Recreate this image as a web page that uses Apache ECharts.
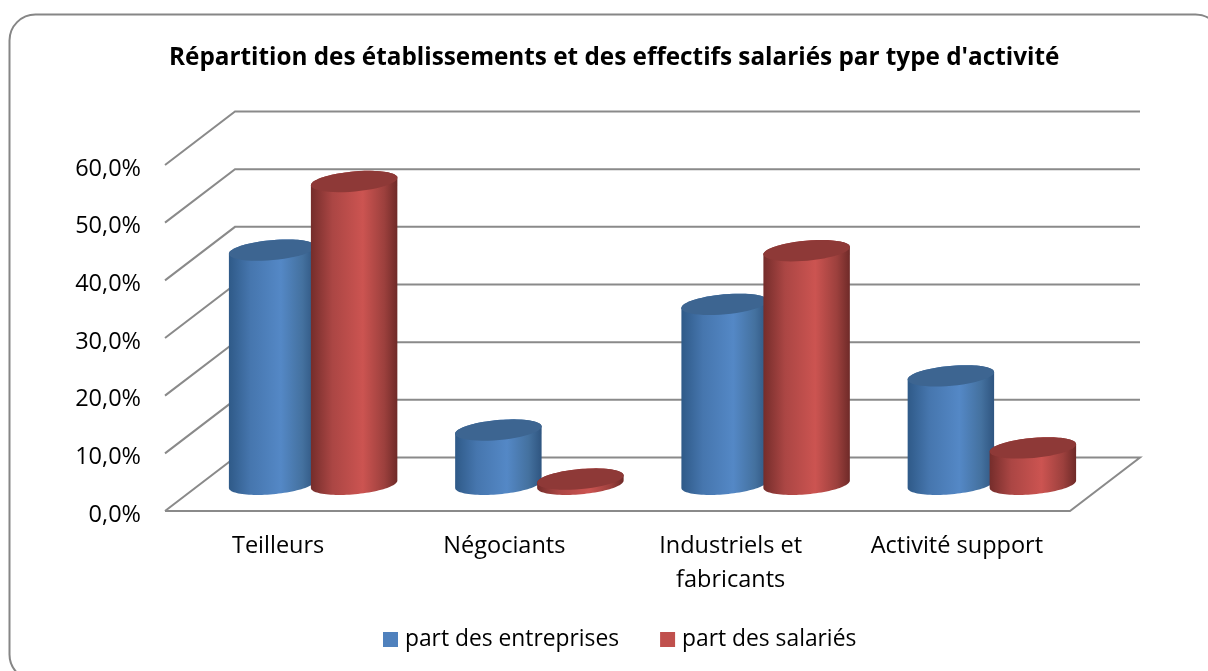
<!DOCTYPE html>
<html>
<head>
<meta charset="utf-8">
<style>html,body{margin:0;padding:0;background:#fff;overflow:hidden}#c{width:1208px;height:671px}</style>
<script src="https://cdn.jsdelivr.net/npm/echarts@6/dist/echarts.min.js"></script>
</head>
<body>
<div id="c"></div>
<script>
const titleText = "Répartition des établissements et des effectifs salariés par type d'activité";
const categories = ["Teilleurs", "Négociants", "Industriels et\nfabricants", "Activité support"];
const partEntreprises = [40.6, 9.4, 31.2, 18.8];
const partSalaries = [52.5, 0.9, 40.5, 6.3];
const yTicks = [0, 10, 20, 30, 40, 50, 60];
const FONT = "'Open Sans', Lato, sans-serif";
const DEPTH_X = 70, DEPTH_Y = 53.5, GRID_COLOR = '#8a8a8a';
const RX = 43.4, RY = 10, TILT = -0.09, SERIES_OFFSET = 41;

const blueFill = {
  side: [[0, '#2f5a88'], [0.25, '#4676ae'], [0.6, '#5488c6'], [0.85, '#44719f'], [1, '#2f5580']],
  top: '#3d6591'
};
const redFill = {
  side: [[0, '#752d2b'], [0.25, '#ab4644'], [0.6, '#cc5451'], [0.85, '#9c403d'], [1, '#6f2a28']],
  top: '#8e3937'
};

function ellipsePts(cx, cy, from, to) {
  const pts = [], n = 48;
  for (let i = 0; i <= n; i++) {
    const t = from + (to - from) * i / n;
    const x = RX * Math.cos(t), y = RY * Math.sin(t);
    pts.push([cx + x * Math.cos(TILT) - y * Math.sin(TILT),
              cy + x * Math.sin(TILT) + y * Math.cos(TILT)]);
  }
  return pts;
}

function cylinder(side, fill) {
  return function (params, api) {
    const cat = api.value(0), val = api.value(1);
    const base = api.coord([cat, 0]), top = api.coord([cat, val]);
    const cx = base[0] + DEPTH_X / 2 + side * SERIES_OFFSET;
    const by = base[1] - DEPTH_Y / 2, ty = top[1] - DEPTH_Y / 2;
    const lower = ellipsePts(cx, by, 0, Math.PI);
    const upper = ellipsePts(cx, ty, Math.PI, 2 * Math.PI);
    const body = lower.concat(upper);
    return {
      type: 'group',
      children: [
        { type: 'polygon', shape: { points: body }, style: {
            fill: { type: 'linear', x: 0, y: 0, x2: 1, y2: 0,
                    colorStops: fill.side.map(s => ({ offset: s[0], color: s[1] })) } } },
        { type: 'polygon', shape: { points: ellipsePts(cx, ty, 0, 2 * Math.PI) },
          style: { fill: fill.top } }
      ]
    };
  };
}

function wall(params, api) {
  const v = api.value(0);
  const p = api.coord([0, v]);
  const cs = params.coordSys;
  const x0 = cs.x, x1 = cs.x + cs.width, y = p[1];
  const pts = [[x0, y], [x0 + DEPTH_X, y - DEPTH_Y], [x1 + DEPTH_X, y - DEPTH_Y]];
  if (v === 0) pts.push([x1, y], [x0, y]);
  return { type: 'polyline', shape: { points: pts },
           style: { fill: null, stroke: GRID_COLOR, lineWidth: 2 } };
}

const chart = echarts.init(document.getElementById('c'), null, { renderer: 'canvas' });
chart.setOption({
  animation: false,
  backgroundColor: '#ffffff',
  title: { text: titleText, left: 164, top: 41,
    textStyle: { fontFamily: FONT, fontWeight: 'bold', fontSize: 24.3, color: '#000' } },
  legend: {
    left: 383, top: 628, padding: 0, itemWidth: 15, itemHeight: 15, itemGap: 41, icon: 'rect',
    textStyle: { fontFamily: FONT, fontSize: 22.8, color: '#000', padding: [0, 0, 0, 2] },
    data: ['part des entreprises', 'part des salariés']
  },
  grid: { left: 165, top: 165, width: 905, height: 346 },
  xAxis: { type: 'category', data: categories,
    axisLine: { show: false }, axisTick: { show: false }, splitLine: { show: false },
    axisLabel: { fontFamily: FONT, fontSize: 23.5, color: '#000', margin: 18, lineHeight: 34, interval: 0 } },
  yAxis: { type: 'value', min: 0, max: 60, interval: 10,
    axisLine: { show: false }, axisTick: { show: false }, splitLine: { show: false },
    axisLabel: { fontFamily: FONT, fontSize: 23.5, color: '#000', margin: 24,
      verticalAlign: 'top', lineHeight: 8,
      formatter: v => v.toFixed(1).replace('.', ',') + '%' } },
  graphic: [{ type: 'rect', z: -1, silent: true,
    shape: { x: 9.5, y: 14.5, width: 1212, height: 666, r: 26 },
    style: { fill: '#fff', stroke: '#868686', lineWidth: 2 } }],
  series: [
    { type: 'custom', name: 'grid', z: 1, silent: true, renderItem: wall, clip: false,
      encode: { y: 0 }, data: yTicks.map(v => [v]) },
    { type: 'custom', name: 'part des entreprises', z: 2, clip: false, renderItem: cylinder(-1, blueFill),
      itemStyle: { color: '#4f81bd' }, encode: { x: 0, y: 1 },
      data: partEntreprises.map((v, i) => [i, v]) },
    { type: 'custom', name: 'part des salariés', z: 3, clip: false, renderItem: cylinder(1, redFill),
      itemStyle: { color: '#c0504d' }, encode: { x: 0, y: 1 },
      data: partSalaries.map((v, i) => [i, v]) }
  ]
});
</script>
</body>
</html>
